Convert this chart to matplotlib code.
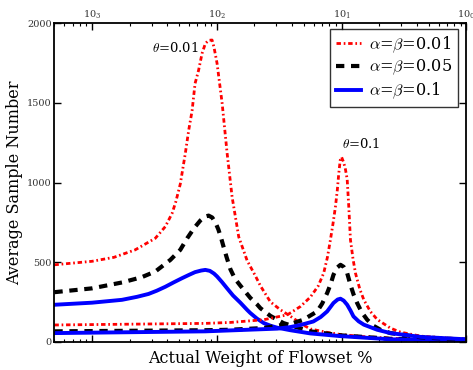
import matplotlib
matplotlib.use("Agg")
import matplotlib.pyplot as plt
from matplotlib.ticker import LogLocator, NullFormatter, FixedLocator

plt.rcParams['font.family'] = ['DejaVu Serif']
plt.rcParams['mathtext.fontset'] = 'cm'

# --- data ---
x_r1 = [0.0005, 0.001, 0.0015, 0.00222, 0.00322, 0.00387, 0.00439, 0.0047, 0.0051, 0.0056,
        0.00596, 0.00634, 0.0067, 0.00715, 0.00762, 0.0081, 0.0086, 0.00917, 0.0095, 0.01005,
        0.01104, 0.0121, 0.01327, 0.0150, 0.0175, 0.0205, 0.0224, 0.0269, 0.0324, 0.0389,
        0.0427, 0.0468, 0.0562, 0.075, 0.098, 0.15, 0.2466, 0.5, 1.0]
y_r1 = [483, 505, 530, 577, 650, 723, 807, 880, 990, 1184,
        1329, 1450, 1622, 1705, 1810, 1873, 1893, 1895, 1850, 1749,
        1498, 1185, 909, 658, 510, 410, 350, 250, 200, 160,
        138, 115, 80, 60, 45, 32, 22, 12, 8]

x_b1 = [0.0005, 0.001, 0.00174, 0.0025, 0.00322, 0.00425, 0.0051, 0.0058, 0.0066, 0.0074,
        0.008, 0.0086, 0.0092, 0.0098, 0.0103, 0.0108, 0.0113, 0.012, 0.01286, 0.014,
        0.01546, 0.0175, 0.01858, 0.021, 0.0224, 0.0269, 0.0342, 0.044, 0.0562, 0.098,
        0.2466, 1.0]
y_b1 = [311, 335, 372, 405, 441, 514, 577, 650, 715, 762,
        785, 792, 780, 745, 705, 655, 600, 530, 455, 395,
        352, 300, 275, 235, 210, 162, 117, 90, 65, 40,
        18, 8]

x_l1 = [0.0005, 0.001, 0.00174, 0.0023, 0.00284, 0.0033, 0.00387, 0.0045, 0.00527, 0.006,
        0.0067, 0.0075, 0.0081, 0.0088, 0.0095, 0.01005, 0.011, 0.0121, 0.0135, 0.01546,
        0.0175, 0.01858, 0.021, 0.0238, 0.027, 0.0305, 0.0389, 0.0562, 0.098, 0.2466, 1.0]
y_l1 = [232, 245, 263, 282, 300, 320, 345, 372, 399, 420,
        437, 447, 451, 445, 428, 410, 375, 335, 290, 245,
        200, 180, 145, 117, 100, 88, 72, 52, 35, 15, 8]

x_r2 = [0.0005, 0.002, 0.0081, 0.01286, 0.0238, 0.0368, 0.0468, 0.0562, 0.065, 0.0719,
        0.077, 0.0814, 0.0855, 0.0893, 0.0925, 0.095, 0.0975, 0.1, 0.1035, 0.107,
        0.1109, 0.1142, 0.1178, 0.1235, 0.1292, 0.14, 0.1508, 0.17, 0.1928, 0.2466,
        0.2965, 0.4294, 1.0]
y_r2 = [105, 110, 115, 121, 138, 169, 221, 280, 350, 431,
        530, 640, 745, 848, 955, 1058, 1140, 1160, 1130, 1090,
        1020, 848, 640, 520, 431, 330, 263, 190, 140, 85,
        60, 35, 15]

x_b2 = [0.0005, 0.0081, 0.01286, 0.0238, 0.0411, 0.0494, 0.0637, 0.07, 0.0766, 0.082,
        0.0861, 0.092, 0.098, 0.104, 0.1109, 0.1178, 0.125, 0.1333, 0.145, 0.1604,
        0.18, 0.2049, 0.2466, 0.4294, 1.0]
y_b2 = [65, 72, 75, 86, 117, 138, 190, 240, 305, 365,
        420, 465, 483, 470, 431, 357, 295, 243, 185, 138,
        100, 75, 54, 28, 12]

x_l2 = [0.0005, 0.0081, 0.0305, 0.0389, 0.0468, 0.0594, 0.068, 0.0766, 0.0861, 0.093,
        0.098, 0.104, 0.1109, 0.118, 0.1245, 0.137, 0.1508, 0.1928, 0.2466, 0.4294, 1.0]
y_l2 = [54, 65, 82, 92, 105, 127, 155, 190, 243, 265,
        270, 258, 232, 195, 159, 128, 107, 75, 54, 30, 15]

labels = [r'$\alpha$=$\beta$=0.01', r'$\alpha$=$\beta$=0.05', r'$\alpha$=$\beta$=0.1']
top_ticks = [1e-3, 1e-2, 1e-1, 1e0]
top_tick_labels = [r'$\mathregular{10_{3}}$', r'$\mathregular{10_{2}}$',
                   r'$\mathregular{10_{1}}$', r'$\mathregular{10_{0}}$']
y_ticks = [0, 500, 1000, 1500, 2000]

fig = plt.figure(figsize=(4.73, 3.70), dpi=100)
ax = fig.add_axes([0.115, 0.0765, 0.871, 0.8605])

red_ls = (0, (1.6, 1.0, 0.6, 1.0))
black_ls = (0, (2.0, 1.6))

ax.plot(x_r1, y_r1, color='red', lw=2.0, ls=red_ls, label=labels[0])
ax.plot(x_b1, y_b1, color='black', lw=3.0, ls=black_ls, label=labels[1])
ax.plot(x_l1, y_l1, color='blue', lw=2.8, ls='-', label=labels[2])
ax.plot(x_r2, y_r2, color='red', lw=2.0, ls=red_ls)
ax.plot(x_b2, y_b2, color='black', lw=3.0, ls=black_ls)
ax.plot(x_l2, y_l2, color='blue', lw=2.8, ls='-')

ax.set_xscale('log')
ax.set_xlim(0.0005, 1.0)
ax.set_ylim(0, 2000)

ax.xaxis.set_major_locator(FixedLocator(top_ticks))
ax.xaxis.set_minor_locator(LogLocator(base=10, subs=range(2, 10)))
ax.set_xticks(top_ticks)
ax.set_xticklabels(top_tick_labels)
ax.xaxis.set_minor_formatter(NullFormatter())
ax.tick_params(axis='x', which='both', direction='in', top=True, bottom=True,
               labeltop=True, labelbottom=False, labelsize=7, labelcolor='#333333', pad=2)
ax.tick_params(axis='x', which='major', length=5, width=1)
ax.tick_params(axis='x', which='minor', length=2.5, width=0.8)
ax.set_yticks(y_ticks)
ax.tick_params(axis='y', which='major', direction='in', left=True, right=True,
               labelsize=7, labelcolor='#333333', length=5, width=1, pad=2)

for s in ax.spines.values():
    s.set_linewidth(1.3)

ax.set_ylabel('Average Sample Number', fontsize=11.5, labelpad=3)
ax.set_xlabel('Actual Weight of Flowset %', fontsize=11.5, labelpad=6)

ax.text(0.00713, 1843, r'$\theta$=0.01', fontsize=9.5, ha='right', va='center')
ax.text(0.101, 1241, r'$\theta$=0.1', fontsize=9.5, ha='left', va='center')

leg = ax.legend(loc='upper right', fontsize=11.6, frameon=True, fancybox=False,
                borderpad=0.35, labelspacing=0.2, handlelength=1.55, handletextpad=0.5,
                borderaxespad=0, bbox_to_anchor=(0.979, 0.983))
leg.get_frame().set_edgecolor('black')
leg.get_frame().set_linewidth(1.0)

fig.savefig('out.png', dpi=100)
